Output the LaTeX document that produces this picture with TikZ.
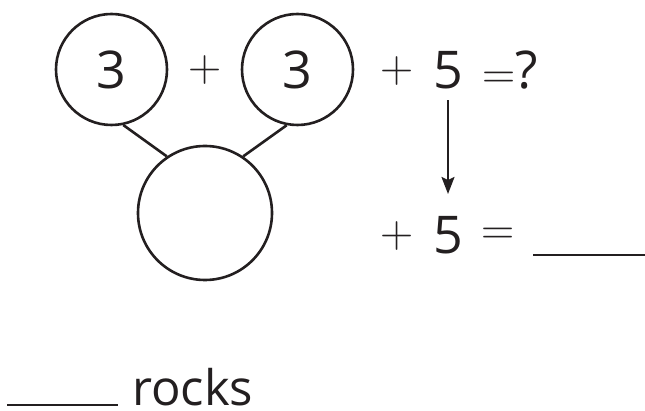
\documentclass[tikz,border=0pt]{standalone}
\usepackage{fontspec}
\setmainfont{Open Sans}
\newfontfamily\opfont{Latin Modern Roman}
\usetikzlibrary{arrows.meta, positioning}
\definecolor{bondInk}{HTML}{231F20}
\newcommand{\opsize}{\opfont\fontsize{46}{56}\selectfont}
\tikzset{
  bondnode/.style={draw=bondInk, circle, line width=2.6pt, inner sep=0pt,
    text=bondInk, font=\fontsize{52}{60}\selectfont},
  part/.style={bondnode, minimum size=111pt},
  whole/.style={bondnode, minimum size=134pt},
  sym/.style={inner sep=0pt, text=bondInk, font=\fontsize{52}{60}\selectfont},
  op/.style={inner sep=0pt, text=bondInk, font=\opsize},
  bond/.style={line width=2.6pt, draw=bondInk},
  jump/.style={-{Stealth[length=17pt, width=13pt, inset=3pt]}, line width=2pt, draw=bondInk},
  blank/.style={line width=2.8pt, draw=bondInk}
}
\begin{document}
\begin{tikzpicture}[x=1pt, y=-1pt]
  \useasboundingbox (0,0) rectangle (645,411);
  % number bond
  \node[part] (left) at (111.5,69.5) {3};
  \node[op] (plus1) at (205,70) {+};
  \node[part] (right) at (297.5,69.5) {3};
  \node[whole] (sum) at (205,213) {};
  \draw[bond] (left.-78.5) -- (sum.124);
  \draw[bond] (right.-101.5) -- (sum.56);
  % equations
  \node[op] (plus2) at (397,71) {+};
  \node[sym] (five1) at (448,70) {5};
  \node[sym, anchor=west] (ask) at (482,70) {{\opsize=}?};
  \node[op] (plus3) at (397,236) {+};
  \node[sym] (five2) at (448,235) {5};
  \node[op] (equals) at (498,236.5) {=};
  \draw[blank] (533,255) -- (645,255);
  \draw[jump, shorten <=11pt, shorten >=22pt] (five1.south) -- (five2.north);
  % answer
  \draw[blank] (7,405) -- (118,405);
  \node[sym, font=\fontsize{49}{58}\selectfont, anchor=base west] (rocks) at (132,405) {rocks};
\end{tikzpicture}
\end{document}
